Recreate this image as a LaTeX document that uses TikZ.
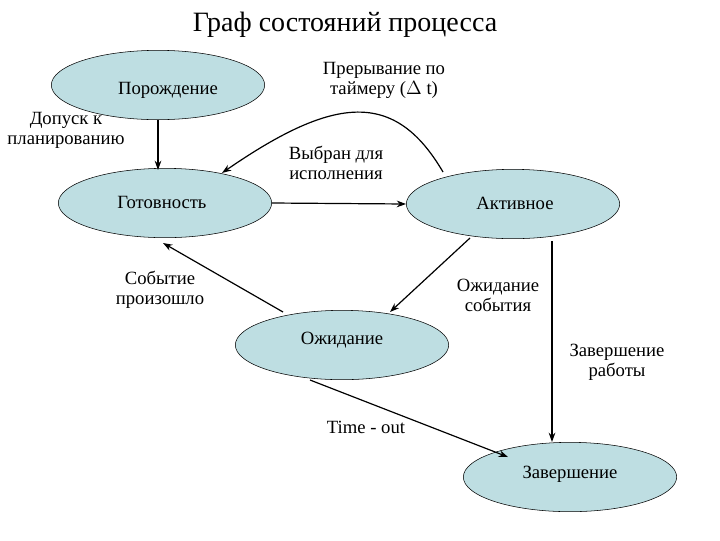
\documentclass[tikz,border=0pt]{standalone}
\usepackage{fontspec}
\setmainfont{Liberation Serif}
\usetikzlibrary{arrows.meta,shapes.geometric}
\begin{document}
\begin{tikzpicture}[x=0.75pt,y=-0.75pt,
  st/.style={ellipse,draw,fill={rgb,255:red,190;green,222;blue,226},minimum width=160pt,minimum height=52pt,inner sep=0pt},
  lb/.style={align=center,font=\fontsize{14}{15}\selectfont},
  ar/.style={draw,line width=0.9pt,-{Stealth[length=7pt,width=5pt]}}]
\useasboundingbox (0,0) rectangle (720,540);
\node[font=\fontsize{21}{24}\selectfont] (title) at (345,25) {Граф состояний процесса};
\node[st] (p) at (158,85) {};
\node[lb] at (168,90) {Порождение};
\node[st] (g) at (165,203) {};
\node[lb] at (162,202) {Готовность};
\node[st] (a) at (513,204) {};
\node[lb] at (515,203) {Активное};
\node[st] (o) at (342,345) {};
\node[lb] at (342,340) {Ожидание};
\node[st] (z) at (570,477) {};
\node[lb] at (570,474) {Завершение};
\coordinate (p1) at (158,120);
\coordinate (g1) at (158,170);
\coordinate (gtop) at (222,173);
\coordinate (atop) at (443,172);
\coordinate (a1) at (470,238);
\coordinate (o1) at (390,312);
\coordinate (o2) at (283,312);
\coordinate (g2) at (163,243);
\coordinate (a2) at (552,241);
\coordinate (z1) at (552,442);
\coordinate (o3) at (310,380);
\coordinate (z2) at (508,457);
\draw[ar] (p1) -- (g1);
\draw[ar] (g.east) -- (a.west);
\draw[ar] (atop) .. controls (395,90) and (335,95) .. (gtop);
\draw[ar] (a1) -- (o1);
\draw[ar] (o2) -- (g2);
\draw[ar] (a2) -- (z1);
\draw[ar] (o3) -- (z2);
\node[lb] at (66,130) {Допуск к\\планированию};
\node[lb] at (336,163) {Выбран для\\исполнения};
\node[lb] at (384,80) {Прерывание по\\таймеру ($\Delta$ t)};
\node[lb] at (498,295) {Ожидание\\события};
\node[lb] at (160,290) {Событие\\произошло};
\node[lb] at (617,362) {Завершение\\работы};
\node[lb] at (366,427) {Time - out};
\end{tikzpicture}
\end{document}
